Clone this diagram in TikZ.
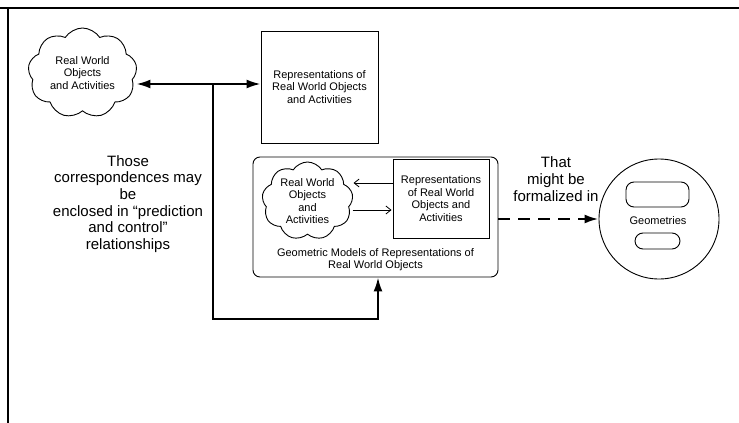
\documentclass[tikz,border=0pt]{standalone}
\usepackage{fontspec}
\setmainfont{Liberation Sans}
\usetikzlibrary{shapes,arrows,arrows.meta}
\usetikzlibrary{calc}

\tikzset{
	smalltxt/.style={font=\fontsize{11}{12.6}\selectfont,align=center},
	bigtxt/.style={font=\fontsize{15}{16.7}\selectfont,align=center},
	puff/.style={cloud,draw,line width=0.9pt,cloud puffs=9,cloud puff arc=115,aspect=1.2,inner sep=0pt,smalltxt},
	plainbox/.style={draw,line width=0.9pt,inner sep=0pt,smalltxt},
	link/.style={line width=2pt,-{Latex[length=14pt,width=9pt]}},
	thinlink/.style={line width=0.8pt,-{Straight Barb[length=5pt,width=8pt]},shorten >=1pt}
}

\begin{document}
\begin{tikzpicture}[x=1pt,y=-1pt]
	\useasboundingbox (0,0) rectangle (739,423);
	
	% frame
	\draw[line width=1.6pt] (0,8) -- (739,8);
	\draw[line width=1.6pt] (8,8) -- (8,423);
	
	\node[puff,minimum width=109,minimum height=90] (rwo) at (82.5,73) {Real World\\Objects\\and Activities};
	\node[plainbox,minimum width=117,minimum height=112] (rep) at (319.5,87) {Representations of\\Real World Objects\\and Activities};
	
	\node[draw,line width=0.9pt,rounded corners=7,minimum width=245,minimum height=120] (model) at (375.5,217) {};
	\node[puff,minimum width=91,minimum height=78] (rwoin) at (307.5,201) {Real World\\Objects\\and\\Activities};
	\node[plainbox,minimum width=96,minimum height=79] (repin) at (441,198.5) {Representations\\of Real World\\Objects and\\Activities};
	\node[smalltxt] (caption) at (375.5,259.5) {Geometric Models of Representations of\\Real World Objects};
	
	\node[draw,line width=0.9pt,circle,minimum size=120,inner sep=0pt] (geo) at (659,219) {};
	\node[smalltxt] (geotxt) at (658,221) {Geometries};
	\node[draw,line width=0.9pt,rounded corners=8,minimum width=63,minimum height=25] (slota) at (657.5,194.5) {};
	\node[draw,line width=0.9pt,rounded corners=8,minimum width=45,minimum height=16] (slotb) at (657.5,241) {};
	
	\node[bigtxt] (those) at (128,204) {Those\\correspondences may\\be\\enclosed in “prediction\\and control”\\relationships};
	\node[bigtxt] (that) at (556,179) {That\\might be\\formalized in};
	
	\coordinate (j) at (213,84);
	\coordinate (k) at (378,319);
	
	\draw[link,{Latex[length=14pt,width=9pt]}-{Latex[length=14pt,width=9pt]}] (rwo.east |- j) -- (rep.west |- j);
	\draw[link] (j) |- (k) -- (k |- model.south);
	
	\draw[thinlink] (repin.west |- 0,183) -- (rwoin.east |- 0,183);
	\draw[thinlink] (rwoin.east |- 0,210) -- (repin.west |- 0,210);
	
	\draw[link,line width=2.4pt,dash pattern=on 12pt off 8pt] (model.east |- geo.west) -- (geo.west);
\end{tikzpicture}
\end{document}
